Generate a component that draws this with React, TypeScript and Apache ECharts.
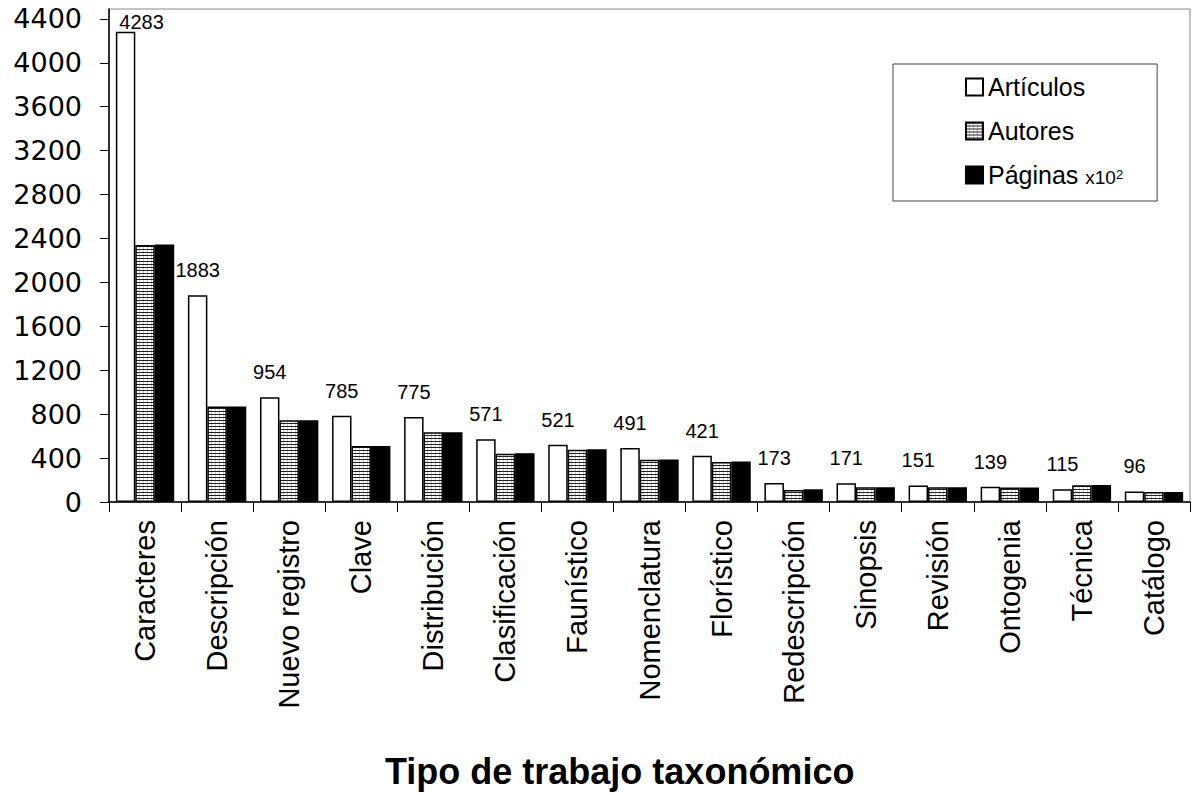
import React, { useEffect, useRef } from "react";
import * as echarts from "echarts";

const categories = [
  "Caracteres", "Descripción", "Nuevo registro", "Clave", "Distribución",
  "Clasificación", "Faunístico", "Nomenclatura", "Florístico", "Redescripción",
  "Sinopsis", "Revisión", "Ontogenia", "Técnica", "Catálogo",
];
const articulos = [4283, 1883, 954, 785, 775, 571, 521, 491, 421, 173, 171, 151, 139, 115, 96];
const autores = [2340, 870, 745, 510, 635, 440, 475, 385, 365, 110, 135, 135, 132, 152, 92];
const paginas = [2345, 870, 745, 510, 635, 445, 480, 388, 368, 115, 135, 135, 132, 155, 92];
const yTicks = [0, 400, 800, 1200, 1600, 2000, 2400, 2800, 3200, 3600, 4000, 4400];
const seriesNames = ["Artículos", "Autores", "Páginas"];
const axisTitle = "Tipo de trabajo taxonómico";

const FONT = "'Liberation Sans', Arial, sans-serif";

function makePattern(): HTMLCanvasElement {
  const c = document.createElement("canvas");
  c.width = 4;
  c.height = 3;
  const ctx = c.getContext("2d")!;
  ctx.fillStyle = "#ffffff";
  ctx.fillRect(0, 0, 4, 3);
  ctx.fillStyle = "#222222";
  ctx.fillRect(0, 0, 4, 1);
  ctx.fillStyle = "#cccccc";
  ctx.fillRect(3, 1, 1, 2);
  return c;
}

export default function App() {
  const ref = useRef<HTMLDivElement>(null);
  useEffect(() => {
    if (!ref.current) return;
    const chart = echarts.init(ref.current, null, { renderer: "svg" });
    const pattern: any = { image: makePattern(), repeat: "repeat", imageWidth: 4, imageHeight: 3 };
    const artData: any[] = articulos.map((v, i) =>
      i === 0 ? { value: v, label: { distance: 0, offset: [16, 0] } } : v
    );
    chart.setOption({
      animation: false,
      backgroundColor: "#fff",
      textStyle: { fontFamily: FONT },
      title: {
        text: axisTitle,
        left: 385,
        top: 753,
        padding: 0,
        textStyle: { fontFamily: FONT, fontSize: 36, fontWeight: "bold", color: "#000", lineHeight: 36 },
      },
      grid: {
        left: 109,
        right: 3,
        top: 9,
        bottom: 293,
        show: true,
        borderColor: "#888",
        borderWidth: 1,
        backgroundColor: "transparent",
        containLabel: false,
      },
      legend: {
        orient: "vertical",
        left: 893,
        top: 64,
        padding: [9, 34, 12, 72],
        itemWidth: 17,
        itemHeight: 17,
        itemGap: 16,
        icon: "rect",
        borderColor: "#444",
        borderWidth: 1,
        backgroundColor: "#fff",
        data: seriesNames,
        formatter: (name: string) => (name === "Páginas" ? "Páginas {s|x10}{sup|2}" : name),
        textStyle: {
          fontFamily: FONT,
          fontSize: 25,
          color: "#000",
          lineHeight: 28,
          rich: {
            s: { fontFamily: FONT, fontSize: 19, color: "#000", lineHeight: 19, verticalAlign: "bottom", padding: [0, 0, 2, 0] },
            sup: { fontFamily: FONT, fontSize: 13, color: "#000", lineHeight: 13, verticalAlign: "top", padding: [7, 0, 0, 0] },
          },
        },
      },
      xAxis: {
        type: "category",
        data: categories,
        axisLine: { show: true, lineStyle: { color: "#000", width: 1.5 } },
        axisTick: { show: true, length: 10, lineStyle: { color: "#000", width: 1 } },
        axisLabel: {
          interval: 0,
          rotate: 90,
          margin: 18,
          fontFamily: FONT,
          fontSize: 29,
          color: "#000",
        },
        splitLine: { show: false },
      },
      yAxis: {
        type: "value",
        min: 0,
        max: 4490,
        interval: 400,
        axisLine: { show: true, lineStyle: { color: "#000", width: 1.5 } },
        axisTick: { show: true, length: 9, lineStyle: { color: "#000", width: 1 }, customValues: yTicks },
        axisLabel: {
          customValues: yTicks,
          margin: 27,
          fontFamily: "'DejaVu Sans', sans-serif",
          fontSize: 27,
          color: "#000",
          formatter: (v: number) => (v % 400 === 0 ? String(v) : ""),
        },
        splitLine: { show: false },
      },
      series: [
        {
          name: seriesNames[0],
          type: "bar",
          data: artData,
          barGap: "0%",
          barCategoryGap: "19%",
          itemStyle: { color: "#fff", borderColor: "#000", borderWidth: 1.5 },
          label: {
            show: true,
            position: "top",
            distance: 15,
            fontFamily: FONT,
            fontSize: 20,
            color: "#000",
          },
        },
        {
          name: seriesNames[1],
          type: "bar",
          data: autores,
          barGap: "0%",
          barCategoryGap: "19%",
          itemStyle: { color: pattern, borderColor: "#000", borderWidth: 1.5 },
        },
        {
          name: seriesNames[2],
          type: "bar",
          data: paginas,
          barGap: "0%",
          barCategoryGap: "19%",
          itemStyle: { color: "#000", borderColor: "#000", borderWidth: 1.5 },
        },
      ],
    });
    return () => chart.dispose();
  }, []);
  return (
    <div
      ref={ref}
      style={{ position: "fixed", left: 0, top: 0, width: 1193, height: 795, background: "#fff" }}
    />
  );
}
